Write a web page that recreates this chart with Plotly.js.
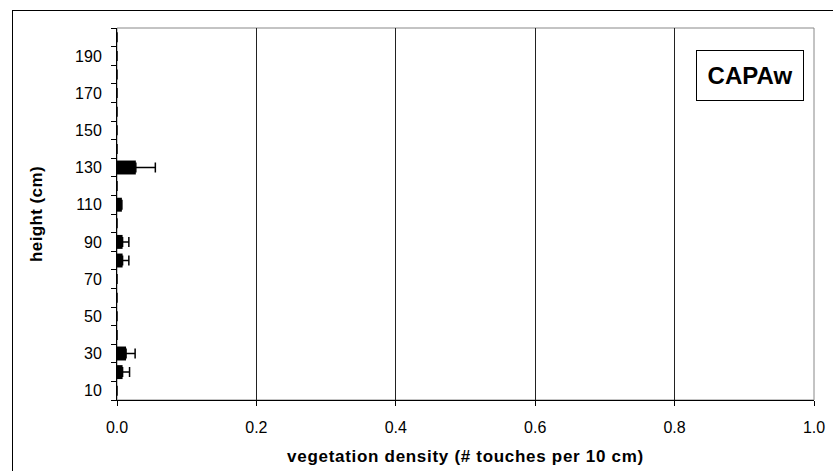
<!DOCTYPE html>
<html>
<head>
<meta charset="utf-8">
<script src="https://cdn.plot.ly/plotly-3.0.1.min.js"></script>
<style>
  html, body { margin: 0; padding: 0; background: #fff; overflow: hidden; }
  #wrap { position: relative; width: 833px; height: 471px; }
  #frame { position: absolute; left: 12px; top: 10px; width: 840px; height: 480px;
           border: 1px solid #000; box-sizing: border-box; pointer-events: none; }
  #chart { position: absolute; left: 0; top: 0; width: 833px; height: 471px; }
  /* slightly tracked-out bold axis titles */
  #chart .xtitle { letter-spacing: 0.7px; }
  #chart .ytitle { letter-spacing: 0.4px; }
</style>
</head>
<body>
<div id="wrap">
  <div id="chart"></div>
  <div id="frame"></div>
</div>
<script>
// height classes (cm), 10 cm bins
const heights = [10, 20, 30, 40, 50, 60, 70, 80, 90, 100,
                 110, 120, 130, 140, 150, 160, 170, 180, 190, 200];
// mean vegetation density (# touches per 10 cm)
const density = [0, 0.008, 0.013, 0, 0, 0, 0, 0.008, 0.008, 0,
                 0.007, 0, 0.027, 0, 0, 0, 0, 0, 0, 0];
// standard error (drawn on the positive side only)
const stdErr = [0, 0.010, 0.013, 0, 0, 0, 0, 0.009, 0.009, 0,
                0, 0, 0.028, 0, 0, 0, 0, 0, 0, 0];
const yTickVals = [10, 30, 50, 70, 90, 110, 130, 150, 170, 190];
const xTickVals = [0, 0.2, 0.4, 0.6, 0.8, 1.0];
const siteLabel = 'CAPAw';

const font = 'Liberation Sans, Arial, sans-serif';

const trace = {
  type: 'bar',
  orientation: 'h',
  x: density,
  y: heights,
  marker: { color: '#000', line: { width: 0 } },
  error_x: {
    type: 'data',
    symmetric: false,
    array: stdErr,
    arrayminus: heights.map(() => 0),
    color: '#000',
    thickness: 1.5,
    width: 5,
    visible: true
  },
  hoverinfo: 'skip'
};

const layout = {
  width: 833,
  height: 471,
  margin: { l: 117, r: 19, t: 28, b: 71, pad: 0 },
  paper_bgcolor: '#fff',
  plot_bgcolor: '#fff',
  showlegend: false,
  bargap: 0.25,
  font: { family: font, size: 16, color: '#000' },
  xaxis: {
    range: [0, 1.0],
    tickvals: xTickVals,
    tickformat: '.1f',
    ticks: 'outside',
    ticklen: 5,
    tickcolor: '#000',
    ticklabelstandoff: 8,
    showline: true,
    linecolor: '#000',
    linewidth: 1,
    showgrid: true,
    gridcolor: '#222',
    gridwidth: 1,
    zeroline: false,
    tickfont: { family: font, size: 16, color: '#000' },
    title: {
      text: '<b>vegetation density (# touches per 10 cm)</b>',
      font: { family: font, size: 17, color: '#000' },
      standoff: 14
    }
  },
  yaxis: {
    range: [5, 205],
    tickvals: yTickVals,
    ticks: '',
    ticklabelstandoff: 11,
    showline: true,
    linecolor: '#000',
    linewidth: 1,
    showgrid: false,
    zeroline: false,
    tickfont: { family: font, size: 16, color: '#000' },
    minor: {
      tick0: 5,
      dtick: 10,
      ticks: 'outside',
      ticklen: 5,
      tickcolor: '#000',
      showgrid: false
    },
    title: {
      text: '<b>height (cm)</b>',
      font: { family: font, size: 17, color: '#000' },
      standoff: 28
    }
  },
  shapes: [{
    type: 'rect', xref: 'paper', yref: 'paper',
    x0: 0, x1: 1, y0: 0, y1: 1,
    line: { color: '#888', width: 1 },
    layer: 'below'
  }],
  annotations: [{
    xref: 'paper', yref: 'paper',
    x: 0.908, y: 0.872,
    xanchor: 'center', yanchor: 'middle',
    text: '<b>' + siteLabel + '</b>',
    showarrow: false,
    font: { family: font, size: 24, color: '#000' },
    bgcolor: '#fff',
    bordercolor: '#000',
    borderwidth: 1,
    borderpad: 0,
    width: 106,
    height: 49
  }]
};

Plotly.newPlot('chart', [trace], layout, { displayModeBar: false, staticPlot: true });
</script>
</body>
</html>
